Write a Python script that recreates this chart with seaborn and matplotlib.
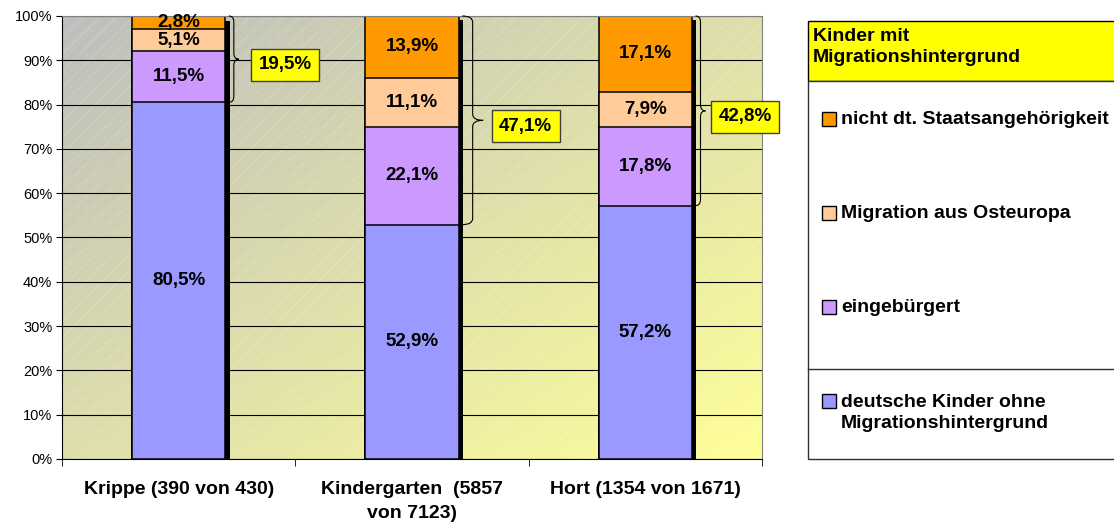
import numpy as np
import pandas as pd
import matplotlib
matplotlib.use("Agg")
import matplotlib.pyplot as plt
import matplotlib.patheffects as pe
from matplotlib.patches import Rectangle, PathPatch
from matplotlib.path import Path
import seaborn as sns

# Data
###############################################################################

categories = ['Krippe (390 von 430)',
              'Kindergarten  (5857\nvon 7123)',
              'Hort (1354 von 1671)']
groups = ['deutsche Kinder ohne\nMigrationshintergrund',
          'eingebürgert',
          'Migration aus Osteuropa',
          'nicht dt. Staatsangehörigkeit']
deutsche = [80.5, 52.9, 57.2]
eingebuergert = [11.5, 22.1, 17.8]
osteuropa = [5.1, 11.1, 7.9]
nicht_dt = [2.8, 13.9, 17.1]
legend_title = 'Kinder mit\nMigrationshintergrund'
yticks = [0, 10, 20, 30, 40, 50, 60, 70, 80, 90, 100]

colors = ['#9999ff', '#cc99ff', '#ffcc99', '#ff9900']

values = np.array([deutsche, eingebuergert, osteuropa, nicht_dt])
cum = values.cumsum(axis=0)
migration = 100 - np.array(deutsche)

df = pd.DataFrame({'Kategorie': np.tile(categories, len(groups)),
                   'Gruppe': np.repeat(groups, len(categories)),
                   'Wert': values.ravel(),
                   'Summe': cum.ravel()})

def pct(v):
    return f'{v:.1f}%'.replace('.', ',')

# Figure
###############################################################################

plt.rcParams['font.family'] = ['Liberation Sans', 'DejaVu Sans']
plt.rcParams['hatch.linewidth'] = 0.6
W, H = 1114, 522
fig = plt.figure(figsize=(W / 100, H / 100), dpi=100)
ax = fig.add_axes([62 / W, 63 / H, 700 / W, 443 / H])

# stacked bars: draw cumulative totals from top layer down
for i in range(len(groups) - 1, -1, -1):
    sub = df[df['Gruppe'] == groups[i]]
    sns.barplot(data=sub, x='Kategorie', y='Summe', order=categories,
                color=colors[i], saturation=1, errorbar=None,
                edgecolor='black', linewidth=1.1, width=0.4, ax=ax, zorder=2)
    if i == len(groups) - 1:
        for bar in ax.containers[-1]:
            bar.set_path_effects([pe.SimplePatchShadow(offset=(3, -3),
                                                       shadow_rgbFace='black',
                                                       alpha=1),
                                  pe.Normal()])

# segment labels
for i in range(len(groups)):
    for j in range(len(categories)):
        ax.text(j, cum[i, j] - values[i, j] / 2, pct(values[i, j]),
                ha='center', va='center', fontsize=13.5,
                fontweight='bold', zorder=5)

# braces with yellow boxes
px = 1 / 233.3          # one pixel in x data units
brace_w = [10, 21, 10]
box_gap = [20, 16, 13]
for j in range(len(categories)):
    x0 = j + 0.2 + 3.5 * px
    w = brace_w[j] * px
    y0, y1 = deutsche[j], 100
    ym = (y0 + y1) / 2
    r = 1.4
    xm = x0 + w / 2
    verts = [(x0, y1), (xm, y1), (xm, y1 - r),
             (xm, ym + r), (xm, ym), (x0 + w, ym),
             (xm, ym), (xm, ym - r),
             (xm, y0 + r), (xm, y0), (x0, y0)]
    codes = [Path.MOVETO, Path.CURVE3, Path.CURVE3,
             Path.LINETO, Path.CURVE3, Path.CURVE3,
             Path.CURVE3, Path.CURVE3,
             Path.LINETO, Path.CURVE3, Path.CURVE3]
    ax.add_patch(PathPatch(Path(verts, codes), fc='none', ec='black',
                           lw=0.8, zorder=4, clip_on=False))
    ax.text(x0 + w + box_gap[j] * px, ym - 1.3, pct(migration[j]),
            ha='left', va='center', fontsize=13.5, fontweight='bold',
            zorder=6, clip_on=False,
            bbox=dict(boxstyle='square,pad=0.4', fc='#ffff00',
                      ec='#404040', lw=1))

# gradient background with faint hatching
u = np.linspace(0, 1, 300)
U, V = np.meshgrid(u, u)
t = (U + V) / 2
c0 = np.array([190, 190, 190]) / 255
c1 = np.array([255, 255, 153]) / 255
img = c0 + t[..., None] * (c1 - c0)
ax.imshow(img, extent=(0, 1, 0, 1), transform=ax.transAxes,
          aspect='auto', origin='upper', zorder=0)
ax.add_patch(Rectangle((0, 0), 1, 1, transform=ax.transAxes,
                       fc='none', ec=(1, 1, 1, 0.22), hatch='//',
                       lw=0, zorder=0.2))

ax.set_xlim(-0.5, 2.5)
ax.set_ylim(0, 100)
ax.set_xlabel('')
ax.set_ylabel('')
ax.set_yticks(yticks)
ax.set_yticklabels([f'{v}%' for v in yticks])
ax.yaxis.grid(True, color='black', lw=0.8)
ax.set_axisbelow(True)
ax.tick_params(axis='y', length=4, labelsize=10.5, pad=3)
ax.set_xticks(range(len(categories)))
ax.set_xticklabels(categories, fontsize=14, fontweight='bold',
                   linespacing=1.5)
ax.tick_params(axis='x', which='major', length=0, pad=16)
ax.set_xticks([-0.5, 0.5, 1.5, 2.5], minor=True)
ax.tick_params(axis='x', which='minor', length=5)
for s in ['left', 'bottom']:
    ax.spines[s].set_color('black')
for s in ['top', 'right']:
    ax.spines[s].set_color('#808080')

# legend table
###############################################################################

lax = fig.add_axes([800 / W, 0, (W - 800) / W, 1])
lax.set_xlim(800, W)
lax.set_ylim(H, 0)
lax.axis('off')
lax.add_patch(Rectangle((808, 21), 330, 60, fc='#ffff00', ec='black', lw=1))
lax.add_patch(Rectangle((808, 81), 330, 378, fc='white', ec='#303030', lw=1))
lax.plot([808, 1140], [369, 369], color='#303030', lw=1)
lax.text(813, 47, legend_title, ha='left', va='center', fontsize=14,
         fontweight='bold', linespacing=1.25)
entry_y = [413, 307, 213, 119]
for i in range(len(groups)):
    sq_y = entry_y[i] if i else 401
    lax.add_patch(Rectangle((822, sq_y - 7), 14, 14, fc=colors[i],
                            ec='black', lw=1))
    lax.text(841, entry_y[i], groups[i], ha='left', va='center',
             fontsize=14, fontweight='bold', linespacing=1.25)

plt.savefig('out.png', dpi=100)
